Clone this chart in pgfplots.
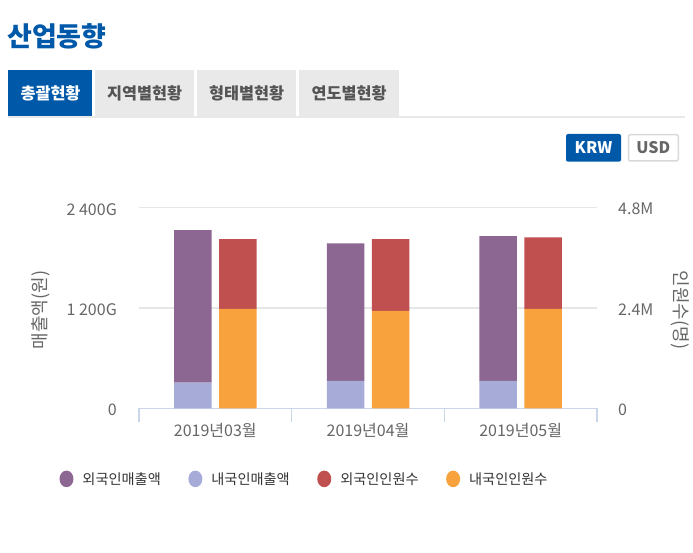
\documentclass[border=0pt]{standalone}
\usepackage{pgfplots}
\pgfplotsset{compat=1.18}
\usepackage{fontspec}
\setmainfont{Noto Sans CJK KR}
\definecolor{cPurple}{HTML}{8C6791}
\definecolor{cLav}{HTML}{A7ABD8}
\definecolor{cRed}{HTML}{C04F50}
\definecolor{cOrange}{HTML}{F7A23D}
\definecolor{cBlue}{HTML}{0058A9}
\definecolor{cTabGray}{HTML}{E9E9E9}
\definecolor{cAxis}{HTML}{CCD6EB}
\definecolor{cGrid}{HTML}{E6E6E6}
\definecolor{cLabel}{HTML}{666666}
\definecolor{cLegend}{HTML}{333333}

\pgfplotstableread{
x dom for
0 306 1827
1 327 1647
2 327 1734
}\revenue
\pgfplotstableread{
x dom for
0 2.376 1.674
1 2.330 1.720
2 2.376 1.714
}\visitors

\begin{document}
\begin{tikzpicture}[x=1pt,y=1pt]
\useasboundingbox (0,0) rectangle (693,553);
\coordinate (O) at (139,144.7);
% title
\node[anchor=west, inner sep=0pt, text=cBlue, font=\fontsize{27}{31}\selectfont\bfseries] at (7,517) {산업동향};
% tabs
\fill[cTabGray] (8,436.5) rectangle (685,435);
\fill[cBlue] (8,483) rectangle (92,437);
\fill[cTabGray] (95.3,483) rectangle (194,437);
\fill[cTabGray] (197.3,483) rectangle (296,437);
\fill[cTabGray] (299.3,483) rectangle (399,437);
\node[text=white, font=\fontsize{16.3}{19}\selectfont\bfseries] at (50.5,459.5) {총괄현황};
\node[text=black!67, font=\fontsize{16.3}{19}\selectfont\bfseries] at (144.7,459.5) {지역별현황};
\node[text=black!67, font=\fontsize{16.3}{19}\selectfont\bfseries] at (246.7,459.5) {형태별현황};
\node[text=black!67, font=\fontsize{16.3}{19}\selectfont\bfseries] at (349.2,459.5) {연도별현황};
% currency buttons
\fill[cBlue, rounded corners=2pt] (566,419) rectangle (621,391.3);
\node[text=white, font=\fontsize{16}{19}\selectfont\bfseries] at (593.5,405.2) {KRW};
\draw[black!15, line width=1.5pt, rounded corners=2pt] (628.5,418.3) rectangle (678.3,392);
\node[text=black!60, font=\fontsize{16}{19}\selectfont\bfseries] at (653.4,405.2) {USD};

\begin{axis}[
  at={(O)}, anchor=south west,
  scale only axis, width=458pt, height=200.6pt,
  xmin=-0.5, xmax=2.5, ymin=0, ymax=2400,
  axis x line*=bottom, axis y line*=left,
  y axis line style={draw=none},
  x axis line style={draw=cAxis, line width=1.5pt},
  ytick={0,1200,2400}, yticklabels={0,1 200G,2 400G},
  ytick style={draw=none},
  ymajorgrids, grid style={cGrid, line width=1.5pt},
  xtick={0,1,2}, xticklabels={2019년03월,2019년04월,2019년05월},
  xtick style={draw=none},
  extra x ticks={-0.5,0.5,1.5,2.5}, extra x tick labels={},
  extra x tick style={tick align=outside, major tick length=13.5pt, xtick style={draw=cAxis, line width=1.5pt}, grid=none},
  tick label style={font=\fontsize{16}{19}\selectfont, text=cLabel},
  /pgf/number format/assume math mode=true,
  xticklabel style={anchor=base, inner sep=0pt, yshift=-28.2pt},
  yticklabel style={anchor=east, inner sep=0pt, xshift=-22pt, yshift=-1.5pt},
  ylabel={매출액(원)},
  ylabel style={at={(axis description cs:-0.215,0.49)}, anchor=center, font=\fontsize{18}{21}\selectfont, text=cLabel},
  ybar stacked, bar width=37.5pt,
  legend columns=4,
  legend style={at={(axis description cs:-0.1736,-0.352)}, anchor=west, draw=none, fill=none, inner sep=0pt, outer sep=0pt,
    font=\fontsize{14.2}{17}\selectfont, text=cLegend,
    nodes={inner sep=0pt},
    /tikz/every odd column/.append style={column sep=9pt},
    /tikz/every even column/.append style={column sep=27.5pt}},
  legend image code/.code={\fill[#1] (7pt,0pt) ellipse [x radius=7pt, y radius=8.3pt];},
]
\addplot[forget plot, fill=cLav, draw=none, bar shift=-22.5pt] table[x=x,y=dom] {\revenue};
\addplot[forget plot, fill=cPurple, draw=none, bar shift=-22.5pt] table[x=x,y=for] {\revenue};
\addlegendimage{fill=cPurple, draw=none}
\addlegendentry{외국인매출액}
\addlegendimage{fill=cLav, draw=none}
\addlegendentry{내국인매출액}
\addlegendimage{fill=cRed, draw=none}
\addlegendentry{외국인인원수}
\addlegendimage{fill=cOrange, draw=none}
\addlegendentry{내국인인원수}
\end{axis}

\begin{axis}[
  at={(O)}, anchor=south west,
  scale only axis, width=458pt, height=200.6pt,
  xmin=-0.5, xmax=2.5, ymin=0, ymax=4.8,
  axis x line=none, axis y line*=right,
  y axis line style={draw=none},
  ytick={0,2.4,4.8}, yticklabels={0,2.4M,4.8M},
  ytick style={draw=none},
  tick label style={font=\fontsize{16}{19}\selectfont, text=cLabel},
  /pgf/number format/assume math mode=true,
  yticklabel style={anchor=west, inner sep=0pt, xshift=21pt, yshift=-1.5pt},
  ylabel={인원수(명)},
  ylabel style={at={(axis description cs:1.181,0.49)}, anchor=center, rotate=180, font=\fontsize{18}{21}\selectfont, text=cLabel},
  ybar stacked, bar width=37.5pt,
]
\addplot[fill=cOrange, draw=none, bar shift=22.5pt] table[x=x,y=dom] {\visitors};
\addplot[fill=cRed, draw=none, bar shift=22.5pt] table[x=x,y=for] {\visitors};
\end{axis}
\end{tikzpicture}
\end{document}
